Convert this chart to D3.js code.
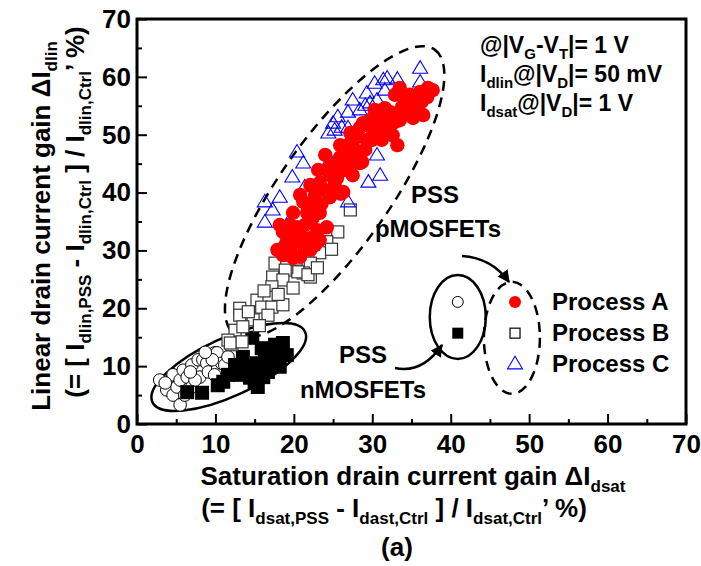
<!DOCTYPE html>
<html lang="en">
<head>
<meta charset="UTF-8">
<title>Drain current gain</title>
<script src="https://cdn.jsdelivr.net/npm/d3@7"></script>
<style>
body { margin: 0; background: #fff; }
svg { display: block; font-family: "Liberation Sans", Arial, sans-serif; font-weight: bold; }
.tick text { font-size: 26px; font-weight: bold; fill: #000; }
.tick line { stroke: #000; stroke-width: 2px; }
</style>
</head>
<body>
<svg width="701" height="566"></svg>
<script>
// tick values
var xTicks = [0, 10, 20, 30, 40, 50, 60, 70];
var yTicks = [0, 10, 20, 30, 40, 50, 60, 70];
var minorTicks = [5, 15, 25, 35, 45, 55, 65];

// Process A (pMOS, red filled circles) [dIdsat, dIdlin]
var procA = [
  [33.5,58.1],[34.8,56.9],[37.7,57.7],[37.0,56.5],[36.3,55.7],[35.4,54.8],[34.2,56.0],[35.4,56.3],
  [35.2,52.9],[36.5,53.4],[33.8,54.8],[33.3,53.4],[32.3,53.9],[32.9,52.2],[31.6,52.5],[31.4,51.7],
  [30.6,53.1],[29.7,52.5],[28.8,52.0],[28.4,51.2],[30.1,50.8],[32.6,49.9],[33.2,48.2],[31.2,49.1],
  [29.3,49.1],[28.1,49.6],[27.2,50.3],[27.2,48.6],[26.5,47.4],[25.9,48.2],[25.9,46.1],[28.1,46.1],
  [28.7,45.3],[28.4,45.1],[24.0,46.5],[25.0,44.8],[24.4,44.2],[26.9,44.8],[27.5,43.0],[25.5,42.5],
  [23.1,43.9],[23.3,41.7],[26.3,40.1],[24.6,39.2],[22.1,41.3],[20.8,39.6],[21.2,38.4],[22.4,38.2],
  [19.9,36.5],[21.7,36.5],[23.3,36.5],[22.4,35.6],[24.2,34.0],[23.0,33.5],[18.2,34.4],[19.5,34.4],
  [21.4,34.4],[20.4,34.0],[19.1,32.3],[21.2,32.1],[20.8,31.8],[23.3,31.8],[20.1,31.3],[18.9,30.9],
  [17.9,30.1],[19.5,30.1],[22.1,30.1],[20.8,28.9],
  [18.6,33.2],[20.1,33.2],[22.1,32.1],[22.7,30.9],[21.4,30.1],[18.6,29.2],[19.9,28.7],[22.7,39.6],
  [24.0,40.4],[25.2,41.3],[24.6,43.0],[26.5,43.9],[27.2,45.6],[27.8,47.4],[29.1,47.4],[30.0,49.1],
  [31.0,50.8],[32.3,51.7],[33.5,52.5],[34.2,53.9],[34.8,55.1],[36.1,57.4],[37.1,58.1],[32.9,56.9],
  [30.3,54.3],[31.6,54.6],[21.8,37.5],[23.5,38.0],[25.8,44.0],[26.0,39.8]
];

// Process B (pMOS, open squares)
var procB = [
  [27.2,37.0],[25.6,33.2],[24.2,31.5],[23.3,29.6],[22.1,27.8],[21.2,26.1],[20.5,26.3],[22.1,25.4],
  [21.8,25.8],[17.6,27.8],[19.1,27.1],[18.9,26.6],[17.3,25.4],[18.6,24.9],[19.9,23.5],[17.2,23.7],
  [16.7,21.9],[15.3,21.4],[15.9,20.2],[17.2,20.2],[18.6,20.6],[13.1,20.0],[13.1,18.8],[14.8,18.0],
  [16.7,18.8],[12.5,16.2],[13.5,16.8],[12.1,13.7],[11.6,14.5],[11.9,14.0],[13.4,14.2],
  [24.8,30.2],[20.3,28.5],[16.2,23.0],[14.2,19.4],[18.0,22.4],[15.6,17.0],[23.0,27.0]
];

// Process C (pMOS, open triangles)
var procC = [
  [36.1,61.5],[36.1,59.1],[33.2,59.6],[31.9,59.8],[31.4,59.5],[30.3,58.9],[31.6,57.7],[29.3,57.2],
  [30.6,56.0],[27.5,56.0],[29.7,55.5],[29.1,55.1],[28.4,54.3],[26.9,53.9],[25.6,53.1],[25.0,52.0],
  [26.1,51.3],[26.9,51.2],[25.2,50.8],[24.4,50.3],[20.4,47.0],[21.2,45.1],[24.6,45.6],[25.9,46.0],
  [30.6,46.5],[19.8,42.7],[21.4,41.0],[31.0,43.0],[29.5,41.8],[18.2,39.2],[16.3,38.4],[17.3,37.0],
  [26.9,38.4],[16.3,34.9],[19.1,34.4]
];

// nMOS open circles
var nOpen = [
  [2.9,7.6],[3.8,5.9],[4.5,8.5],[4.6,8.5],[4.6,5.0],[5.1,6.4],[5.5,3.3],[5.5,7.6],[5.9,9.3],
  [6.4,8.1],[7.0,10.2],[7.0,6.4],[7.8,11.1],[8.0,8.1],[8.4,11.1],[8.9,10.5],[9.1,9.0],[9.9,12.3],
  [10.2,12.3],[10.3,9.7],[10.8,10.5],[11.2,10.2],[11.6,11.6],
  [3.6,7.1],[6.1,5.0],[7.4,7.6],[9.6,11.1],[8.7,12.4],[6.8,9.0],[9.9,8.5]
];

// nMOS filled squares
var nFilled = [
  [6.4,5.5],[8.3,5.4],[10.3,6.7],[11.0,7.3],[11.6,8.5],[13.5,11.6],[13.8,9.9],[14.4,8.0],[15.0,9.3],
  [15.0,7.1],[15.3,10.5],[14.7,14.9],[15.9,13.1],[16.1,8.1],[16.7,9.0],[17.0,10.5],[17.9,11.4],
  [18.2,9.9],[18.6,14.0],[19.1,11.9],
  [12.5,10.2],[13.1,8.5],[16.3,11.9],[17.6,13.7],[15.4,6.4]
];

var legendLabels = ["Process A", "Process B", "Process C"];

var svg = d3.select("svg"),
    margin = {top: 19, right: 15, bottom: 142, left: 137},
    width = +svg.attr("width") - margin.left - margin.right,
    height = +svg.attr("height") - margin.top - margin.bottom;

var x = d3.scaleLinear().domain([0, 70]).range([margin.left, margin.left + width]);
var y = d3.scaleLinear().domain([0, 70]).range([margin.top + height, margin.top]);

svg.append("defs").append("marker")
  .attr("id", "head")
  .attr("viewBox", "0 0 10 10")
  .attr("refX", 9).attr("refY", 5)
  .attr("markerWidth", 5).attr("markerHeight", 5)
  .attr("orient", "auto")
  .append("path").attr("d", "M0,0 L10,5 L0,10 Z").attr("fill", "#000");

// axes, ticks inward
svg.append("g")
  .attr("transform", "translate(0," + y(0) + ")")
  .call(d3.axisBottom(x).tickValues(xTicks).tickSize(-10).tickPadding(11))
  .call(function(g) { g.select(".domain").remove(); });
svg.append("g")
  .attr("transform", "translate(0," + y(0) + ")")
  .call(d3.axisBottom(x).tickValues(minorTicks).tickSize(-5).tickFormat(""))
  .call(function(g) { g.select(".domain").remove(); });
svg.append("g")
  .attr("transform", "translate(" + x(0) + ",0)")
  .call(d3.axisLeft(y).tickValues(yTicks).tickSize(-10).tickPadding(6))
  .call(function(g) { g.select(".domain").remove(); });
svg.append("g")
  .attr("transform", "translate(" + x(0) + ",0)")
  .call(d3.axisLeft(y).tickValues(minorTicks).tickSize(-5).tickFormat(""))
  .call(function(g) { g.select(".domain").remove(); });

svg.append("rect")
  .attr("x", x(0)).attr("y", y(70))
  .attr("width", x(70) - x(0)).attr("height", y(0) - y(70))
  .attr("fill", "none").attr("stroke", "#000").attr("stroke-width", 3);

// group ellipses
function ellipse(cx, cy, rx, ry, ang, dashed, sw) {
  svg.append("ellipse")
    .attr("transform", "translate(" + x(cx) + "," + y(cy) + ") rotate(" + ang + ")")
    .attr("rx", rx).attr("ry", ry)
    .attr("fill", "none").attr("stroke", "#000").attr("stroke-width", sw)
    .attr("stroke-dasharray", dashed ? "10,7" : null);
}
ellipse(25.2, 40.1, 174, 55, -54.9, true, 2.5);
ellipse(11.7, 9.85, 84, 29, -24.7, false, 2.5);

var tri = "M0,-7.5L7.5,5L-7.5,5Z";

// nMOS
svg.append("g").selectAll("circle").data(nOpen).enter().append("circle")
  .attr("cx", function(d) { return x(d[0]); })
  .attr("cy", function(d) { return y(d[1]); })
  .attr("r", 6.3).attr("fill", "#fff").attr("stroke", "#000").attr("stroke-width", 1);
svg.append("g").selectAll("rect").data(nFilled).enter().append("rect")
  .attr("x", function(d) { return x(d[0]) - 7; })
  .attr("y", function(d) { return y(d[1]) - 7; })
  .attr("width", 14).attr("height", 14).attr("fill", "#000");

// pMOS
svg.append("g").selectAll("rect").data(procB).enter().append("rect")
  .attr("x", function(d) { return x(d[0]) - 6; })
  .attr("y", function(d) { return y(d[1]) - 6; })
  .attr("width", 12).attr("height", 12)
  .attr("fill", "#fff").attr("stroke", "#333").attr("stroke-width", 1.2);
svg.append("g").selectAll("path").data(procC).enter().append("path")
  .attr("transform", function(d) { return "translate(" + x(d[0]) + "," + y(d[1]) + ")"; })
  .attr("d", tri).attr("fill", "none").attr("stroke", "#00f").attr("stroke-width", 1.1);
svg.append("g").selectAll("circle").data(procA).enter().append("circle")
  .attr("cx", function(d) { return x(d[0]); })
  .attr("cy", function(d) { return y(d[1]); })
  .attr("r", 7.2).attr("fill", "#f00");

// legend
ellipse(40.9, 18.5, 28, 42, 0, false, 2.5);
ellipse(47.8, 14.9, 28, 56, 0, true, 2.5);
svg.append("circle").attr("cx", x(40.9)).attr("cy", y(21.1)).attr("r", 5.5)
  .attr("fill", "#fff").attr("stroke", "#000");
svg.append("rect").attr("x", x(40.9) - 5.5).attr("y", y(15.7) - 5.5)
  .attr("width", 11).attr("height", 11).attr("fill", "#000");
svg.append("circle").attr("cx", x(48.2)).attr("cy", y(21.1)).attr("r", 6).attr("fill", "#f00");
svg.append("rect").attr("x", x(48.2) - 5).attr("y", y(15.7) - 5)
  .attr("width", 10).attr("height", 10)
  .attr("fill", "#fff").attr("stroke", "#000").attr("stroke-width", 1.2);
svg.append("path").attr("transform", "translate(" + x(48.2) + "," + y(10.4) + ")")
  .attr("d", tri).attr("fill", "none").attr("stroke", "#00f").attr("stroke-width", 1.1);
svg.selectAll(".leg").data(legendLabels).enter().append("text")
  .attr("x", 552)
  .attr("y", function(d, i) { return y(21.1) + 8 + i * 31; })
  .attr("font-size", 24).text(function(d) { return d; });

// arrows
svg.append("path").attr("d", "M462,256 Q492,258 509,282")
  .attr("fill", "none").attr("stroke", "#000").attr("stroke-width", 2.5)
  .attr("marker-end", "url(#head)");
svg.append("path").attr("d", "M395,368 Q422,374 442,345")
  .attr("fill", "none").attr("stroke", "#000").attr("stroke-width", 2.5)
  .attr("marker-end", "url(#head)");

// text labels
function label(tx, ty, str) {
  svg.append("text").attr("x", tx).attr("y", ty).attr("text-anchor", "middle")
    .attr("font-size", 24).text(str);
}
label(435, 203, "PSS");
label(438, 237, "pMOSFETs");
label(363, 363, "PSS");
label(363, 398, "nMOSFETs");

// text with subscripts; parts starting with "_" are subscripts
function richText(tx, ty, parts, size, sub, anchor, rot) {
  var t = svg.append("text").attr("text-anchor", anchor || "start").attr("font-size", size);
  if (rot) t.attr("transform", "translate(" + tx + "," + ty + ") rotate(-90)");
  else t.attr("x", tx).attr("y", ty);
  var offset = 0;
  parts.forEach(function(p) {
    var isSub = p.charAt(0) === "_";
    var dy = isSub ? sub * 0.42 : 0;
    t.append("tspan")
      .attr("font-size", isSub ? sub : size)
      .attr("dy", dy - offset)
      .text(isSub ? p.slice(1) : p);
    offset = dy;
  });
  return t;
}

richText(480, 53, ["@|V", "_G", "-V", "_T", "|= 1 V"], 23, 15);
richText(480, 82, ["I", "_dlin", "@|V", "_D", "|= 50 mV"], 23, 15);
richText(480, 111, ["I", "_dsat", "@|V", "_D", "|= 1 V"], 23, 15);

richText(413, 485, ["Saturation drain current gain \u0394I", "_dsat"], 26, 17, "middle");
richText(394, 517, ["(= [ I", "_dsat,PSS", " - I", "_dast,Ctrl", " ] / I", "_dsat,Ctrl", "\u2019 %)"], 26, 17, "middle");
svg.append("text").attr("x", 397).attr("y", 556).attr("text-anchor", "middle")
  .attr("font-size", 26).text("(a)");

richText(50, 226, ["Linear drain current gain \u0394I", "_dlin"], 26, 17, "middle", true);
richText(84, 212, ["(= [ I", "_dlin,PSS", " - I", "_dlin,Ctrl", " ] / I", "_dlin,Ctrl", "\u2019 %)"], 26, 17, "middle", true);
</script>
</body>
</html>
